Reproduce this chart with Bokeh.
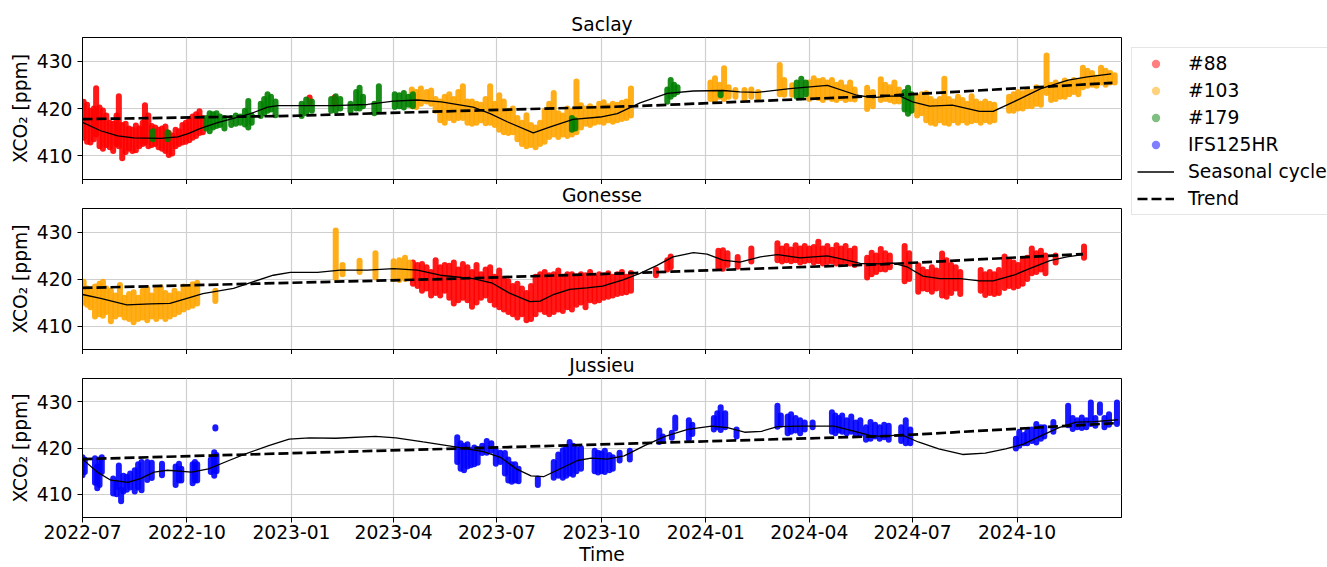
import pandas as pd
from bokeh.embed import file_html
from bokeh.layouts import column, row
from bokeh.models import (ColumnDataSource, DatetimeTickFormatter, FixedTicker,
                          Legend, LegendItem, Range1d)
from bokeh.plotting import figure
from bokeh.resources import INLINE

FONT = "DejaVu Sans"
FS = "18.7px"

X_START = "2022-07-01"
X_END = "2025-01-01"
X_TICKS = ["2022-07-01", "2022-10-01", "2023-01-01", "2023-04-01", "2023-07-01",
           "2023-10-01", "2024-01-01", "2024-04-01", "2024-07-01", "2024-10-01"]
Y_TICKS = [410, 420, 430]
Y_MIN, Y_MAX = 405, 435

# ---------------------------------------------------------------- Saclay
SAC_88_DATES = ["2022-07-02", "2022-07-05", "2022-07-08", "2022-07-11", "2022-07-13",
                "2022-07-16", "2022-07-19", "2022-07-22", "2022-07-25", "2022-07-28",
                "2022-07-31", "2022-08-02", "2022-08-05", "2022-08-08", "2022-08-11",
                "2022-08-14", "2022-08-17", "2022-08-20", "2022-08-23", "2022-08-25",
                "2022-08-28", "2022-08-31", "2022-09-03", "2022-09-06", "2022-09-09",
                "2022-09-12", "2022-09-15", "2022-09-18", "2022-09-21", "2022-09-24",
                "2022-09-27", "2022-09-30", "2022-10-03", "2022-10-06", "2022-10-09",
                "2022-10-12", "2022-10-15", "2023-01-17", "2023-02-08"]
SAC_88_LOW = [413.8, 413.0, 412.8, 413.5, 414.5, 412.0, 411.5, 412.3, 411.8, 411.0,
              412.5, 412.0, 409.5, 410.8, 411.5, 411.0, 411.2, 412.0, 412.5, 412.8,
              412.0, 412.3, 412.5, 411.8, 411.5, 411.0, 410.2, 410.5, 412.0, 412.5,
              412.8, 413.0, 413.3, 413.8, 414.2, 414.8, 415.0, 421.3, 421.0]
SAC_88_HIGH = [421.4, 420.8, 419.5, 420.0, 424.3, 420.2, 419.6, 418.5, 417.0, 416.8,
               418.5, 422.6, 416.5, 416.8, 415.8, 415.5, 416.4, 415.8, 417.0, 420.7,
               418.5, 416.3, 416.0, 415.5, 415.8, 416.2, 414.8, 414.3, 415.5, 415.2,
               416.5, 417.0, 417.5, 418.3, 418.8, 419.4, 418.0, 422.3, 422.3]

SAC_103_DATES = ["2023-04-17", "2023-04-21", "2023-04-25", "2023-04-30", "2023-05-04",
                 "2023-05-08", "2023-05-12", "2023-05-16", "2023-05-20", "2023-05-24",
                 "2023-05-28", "2023-06-01", "2023-06-05", "2023-06-09", "2023-06-13",
                 "2023-06-17", "2023-06-21", "2023-06-25", "2023-06-29", "2023-07-03",
                 "2023-07-07", "2023-07-11", "2023-07-15", "2023-07-19", "2023-07-23",
                 "2023-07-27", "2023-07-31", "2023-08-04", "2023-08-08", "2023-08-12",
                 "2023-08-16", "2023-08-20", "2023-08-24", "2023-08-28", "2023-09-01",
                 "2023-09-05", "2023-09-09", "2023-09-13", "2023-09-17", "2023-09-21",
                 "2023-09-25", "2023-09-29", "2023-10-03", "2023-10-07", "2023-10-11",
                 "2023-10-15", "2023-10-19", "2023-10-23", "2023-10-27", "2024-01-05",
                 "2024-01-09", "2024-01-13", "2024-01-17", "2024-01-21", "2024-01-27",
                 "2024-02-04", "2024-02-10", "2024-02-16", "2024-03-06", "2024-03-10",
                 "2024-03-17", "2024-04-01", "2024-04-05", "2024-04-09", "2024-04-13",
                 "2024-04-17", "2024-04-21", "2024-04-25", "2024-04-29", "2024-05-03",
                 "2024-05-07", "2024-05-11", "2024-05-22", "2024-05-27", "2024-06-03",
                 "2024-06-07", "2024-06-11", "2024-06-15", "2024-06-19", "2024-07-05",
                 "2024-07-09", "2024-07-13", "2024-07-17", "2024-07-21", "2024-07-25",
                 "2024-07-29", "2024-08-02", "2024-08-06", "2024-08-10", "2024-08-14",
                 "2024-08-18", "2024-08-22", "2024-08-26", "2024-08-30", "2024-09-03",
                 "2024-09-07", "2024-09-11", "2024-09-24", "2024-09-28", "2024-10-02",
                 "2024-10-06", "2024-10-10", "2024-10-14", "2024-10-18", "2024-10-22",
                 "2024-10-27", "2024-10-31", "2024-11-04", "2024-11-08", "2024-11-12",
                 "2024-11-16", "2024-11-20", "2024-11-24", "2024-11-28", "2024-12-02",
                 "2024-12-06", "2024-12-10", "2024-12-14", "2024-12-18", "2024-12-22",
                 "2024-12-26"]
SAC_103_LOW = [420.5, 420.3, 421.0, 421.5, 421.0, 419.5, 417.5, 417.0, 418.0, 417.5,
               418.0, 418.0, 417.0, 416.8, 417.0, 417.5, 416.9, 417.0, 416.5, 415.5,
               415.0, 414.8, 415.0, 413.5, 412.5, 412.0, 412.3, 411.8, 412.5, 413.0,
               414.0, 414.5, 414.0, 414.5, 414.2, 414.5, 415.0, 416.0, 416.8, 416.5,
               417.0, 417.2, 417.0, 417.5, 417.2, 417.5, 417.8, 418.0, 418.5, 422.0,
               421.8, 422.5, 422.0, 422.5, 422.5, 422.0, 422.5, 422.3, 423.0, 422.9,
               422.9, 422.0, 422.5, 422.2, 421.8, 422.3, 422.0, 421.8, 422.2, 421.8,
               422.0, 421.9, 419.9, 420.5, 421.8, 422.0, 421.8, 421.5, 421.5, 418.5,
               419.0, 417.5, 417.0, 416.8, 417.5, 417.0, 416.8, 417.5, 417.0, 417.5,
               417.0, 417.3, 417.5, 417.0, 417.5, 417.2, 417.5, 419.5, 419.5, 420.0,
               420.0, 420.5, 420.5, 421.0, 420.8, 423.3, 421.8, 422.0, 422.5, 422.5,
               423.0, 423.5, 423.0, 424.5, 424.8, 425.0, 424.8, 425.5, 425.0, 425.5,
               425.5]
SAC_103_HIGH = [424.0, 423.5, 424.2, 423.5, 423.8, 422.0, 421.5, 422.5, 423.0, 422.0,
                423.5, 424.7, 421.5, 421.5, 421.0, 420.8, 422.0, 424.7, 421.0, 422.8,
                421.5, 419.5, 420.0, 418.0, 417.0, 418.6, 416.5, 416.0, 417.0, 419.5,
                421.0, 423.3, 419.0, 418.5, 420.0, 419.5, 425.7, 420.7, 420.0, 420.5,
                420.0, 421.0, 421.3, 420.5, 421.0, 420.8, 421.2, 421.5, 424.2, 425.5,
                426.4, 425.0, 428.5, 424.5, 423.9, 423.9, 424.0, 423.5, 429.2, 426.0,
                424.9, 425.5, 426.4, 425.8, 426.0, 425.5, 426.0, 425.0, 425.5, 424.5,
                425.5, 424.0, 424.4, 423.5, 426.2, 425.0, 424.5, 425.5, 424.0, 422.5,
                423.0, 423.2, 422.0, 421.5, 422.0, 426.3, 422.0, 421.5, 422.5, 421.8,
                421.0, 422.6, 421.5, 421.0, 421.5, 421.0, 420.8, 422.5, 423.0, 423.5,
                423.2, 423.9, 423.5, 424.5, 424.0, 431.2, 425.0, 425.5, 425.0, 425.9,
                425.5, 426.0, 425.8, 428.6, 428.0, 427.5, 426.5, 428.6, 428.0, 427.5,
                427.0]

SAC_179_DATES = ["2022-09-01", "2022-09-14", "2022-10-18", "2022-10-21", "2022-10-24",
                 "2022-10-27", "2022-10-30", "2022-11-03", "2022-11-09", "2022-11-13",
                 "2022-11-17", "2022-11-21", "2022-11-24", "2022-11-27", "2022-12-05",
                 "2022-12-08", "2022-12-11", "2022-12-14", "2022-12-18", "2023-01-10",
                 "2023-01-14", "2023-01-19", "2023-02-05", "2023-02-09", "2023-02-13",
                 "2023-02-22", "2023-02-27", "2023-03-02", "2023-03-05", "2023-03-15",
                 "2023-03-19", "2023-04-02", "2023-04-06", "2023-04-10", "2023-04-14",
                 "2023-04-18", "2023-09-05", "2023-09-08", "2023-11-28", "2023-12-01",
                 "2023-12-04", "2023-12-07", "2024-01-14", "2024-03-21", "2024-03-25",
                 "2024-03-29", "2024-06-24", "2024-06-27", "2024-06-30"]
SAC_179_LOW = [413.5, 413.5, 415.8, 415.2, 416.0, 416.3, 416.5, 415.8, 416.5, 416.8,
               417.0, 416.6, 416.0, 417.0, 418.4, 419.0, 419.5, 419.8, 418.6, 418.4,
               419.0, 419.5, 419.5, 419.5, 420.0, 419.4, 420.0, 420.0, 420.5, 419.0,
               419.5, 420.3, 420.5, 420.2, 420.8, 420.5, 415.5, 415.8, 421.4, 422.5,
               423.0, 423.5, 422.8, 422.5, 422.4, 423.0, 419.8, 418.9, 419.5]
SAC_179_HIGH = [415.2, 415.0, 418.0, 419.0, 418.8, 419.0, 418.3, 418.0, 418.0, 418.5,
                418.3, 419.5, 421.6, 418.5, 421.0, 422.0, 423.0, 422.5, 421.5, 421.0,
                421.9, 421.5, 422.0, 422.6, 422.0, 421.0, 423.5, 424.4, 422.5, 421.0,
                424.7, 423.0, 422.8, 423.3, 422.5, 423.0, 418.0, 417.5, 424.0, 426.0,
                425.0, 424.5, 423.3, 425.5, 426.3, 425.5, 423.5, 424.4, 423.0]

SAC_SEAS_DATES = ["2022-07-01", "2022-07-17", "2022-08-01", "2022-08-15", "2022-09-08",
                  "2022-09-23", "2022-10-02", "2022-10-13", "2022-10-28", "2022-11-11",
                  "2022-11-26", "2022-12-11", "2022-12-20", "2023-01-09", "2023-02-07",
                  "2023-03-09", "2023-04-01", "2023-04-22", "2023-05-13", "2023-06-10",
                  "2023-06-25", "2023-07-10", "2023-08-02", "2023-08-17", "2023-09-06",
                  "2023-09-30", "2023-10-15", "2023-11-04", "2023-11-28", "2023-12-21",
                  "2024-01-16", "2024-01-31", "2024-02-15", "2024-03-15", "2024-04-17",
                  "2024-05-13", "2024-05-27", "2024-06-11", "2024-06-20", "2024-07-01",
                  "2024-07-16", "2024-08-05", "2024-08-29", "2024-09-10", "2024-09-28",
                  "2024-10-22", "2024-11-15", "2024-12-02", "2024-12-23"]
SAC_SEAS = [417.05, 415.3, 414.2, 413.8, 413.7, 414.0, 414.7, 415.8, 417.0, 417.9,
            418.9, 420.3, 420.6, 420.6, 420.6, 420.85, 421.55, 421.8, 421.4, 420.3,
            418.9, 417.2, 414.85, 416.1, 417.7, 418.2, 418.9, 421.2, 423.2, 423.7,
            423.8, 423.5, 423.4, 424.2, 424.9, 422.8, 422.3, 422.6, 422.6, 421.4,
            420.5, 420.7, 419.4, 419.4, 421.4, 424.2, 426.0, 426.7, 427.3]

SAC_TREND_DATES = ["2022-07-01", "2023-01-01", "2023-05-16", "2023-11-01", "2024-06-11",
                   "2024-12-24"]
SAC_TREND = [417.75, 418.45, 419.4, 420.5, 422.75, 425.4]

# ---------------------------------------------------------------- Gonesse
GON_103_DATES = ["2022-07-02", "2022-07-05", "2022-07-08", "2022-07-12", "2022-07-16",
                 "2022-07-19", "2022-07-22", "2022-07-26", "2022-07-30", "2022-08-03",
                 "2022-08-07", "2022-08-11", "2022-08-15", "2022-08-19", "2022-08-23",
                 "2022-08-27", "2022-08-31", "2022-09-04", "2022-09-08", "2022-09-12",
                 "2022-09-16", "2022-09-20", "2022-09-24", "2022-09-28", "2022-10-02",
                 "2022-10-06", "2022-10-10", "2022-10-26", "2023-02-09", "2023-02-15",
                 "2023-03-02", "2023-03-16", "2023-04-01", "2023-04-06", "2023-04-11",
                 "2023-04-15"]
GON_103_LOW = [415.0, 414.5, 414.0, 412.0, 412.5, 412.2, 413.0, 411.0, 412.0, 412.5,
               411.8, 411.5, 410.8, 411.5, 411.8, 411.2, 412.0, 411.5, 412.0, 411.5,
               412.0, 412.5, 413.0, 413.5, 414.0, 414.3, 414.8, 415.3, 420.2, 421.0,
               421.5, 420.3, 420.0, 419.8, 420.0, 420.5]
GON_103_HIGH = [419.4, 418.0, 417.5, 418.4, 419.0, 419.4, 418.0, 417.5, 416.5, 418.7,
                416.0, 416.8, 417.2, 416.0, 417.5, 418.0, 416.5, 417.8, 418.2, 417.0,
                416.5, 417.5, 416.8, 418.4, 418.0, 418.9, 419.2, 417.5, 430.3, 423.0,
                423.9, 425.5, 423.8, 424.0, 424.5, 423.5]

GON_88_DATES = ["2023-04-18", "2023-04-22", "2023-04-26", "2023-04-30", "2023-05-04",
                "2023-05-08", "2023-05-12", "2023-05-16", "2023-05-20", "2023-05-24",
                "2023-05-28", "2023-06-01", "2023-06-05", "2023-06-09", "2023-06-13",
                "2023-06-17", "2023-06-21", "2023-06-25", "2023-06-29", "2023-07-03",
                "2023-07-07", "2023-07-11", "2023-07-15", "2023-07-19", "2023-07-23",
                "2023-07-27", "2023-07-31", "2023-08-04", "2023-08-08", "2023-08-12",
                "2023-08-16", "2023-08-20", "2023-08-24", "2023-08-28", "2023-09-01",
                "2023-09-05", "2023-09-09", "2023-09-13", "2023-09-17", "2023-09-21",
                "2023-09-25", "2023-09-29", "2023-10-03", "2023-10-07", "2023-10-11",
                "2023-10-15", "2023-10-19", "2023-10-23", "2023-10-27", "2023-11-18",
                "2023-11-28", "2023-12-01", "2024-01-12", "2024-01-16", "2024-01-20",
                "2024-01-29", "2024-02-10", "2024-03-04", "2024-03-08", "2024-03-12",
                "2024-03-16", "2024-03-20", "2024-03-24", "2024-03-28", "2024-04-01",
                "2024-04-05", "2024-04-09", "2024-04-13", "2024-04-17", "2024-04-21",
                "2024-04-25", "2024-04-29", "2024-05-03", "2024-05-07", "2024-05-11",
                "2024-05-22", "2024-05-26", "2024-05-30", "2024-06-03", "2024-06-07",
                "2024-06-11", "2024-06-24", "2024-06-28", "2024-07-06", "2024-07-10",
                "2024-07-14", "2024-07-18", "2024-07-22", "2024-07-27", "2024-07-31",
                "2024-08-04", "2024-08-08", "2024-08-12", "2024-08-30", "2024-09-03",
                "2024-09-07", "2024-09-11", "2024-09-15", "2024-09-20", "2024-09-24",
                "2024-09-28", "2024-10-02", "2024-10-06", "2024-10-10", "2024-10-14",
                "2024-10-18", "2024-10-22", "2024-10-26", "2024-11-04", "2024-11-29"]
GON_88_LOW = [419.0, 418.5, 417.5, 418.0, 416.5, 417.0, 416.5, 417.5, 416.0, 414.8,
              415.5, 416.0, 415.5, 414.1, 415.0, 416.0, 416.5, 415.5, 414.5, 414.0,
              413.5, 413.0, 412.5, 411.8, 412.5, 411.2, 411.5, 412.5, 413.5, 413.0,
              412.5, 413.0, 413.5, 413.2, 414.0, 413.5, 414.5, 415.0, 414.0, 415.5,
              415.2, 415.5, 416.0, 416.2, 416.5, 416.8, 417.0, 417.2, 417.5, 420.8,
              422.0, 422.5, 422.5, 422.2, 423.0, 422.6, 423.7, 424.0, 423.7, 424.0,
              423.8, 424.0, 423.5, 423.8, 424.0, 423.5, 423.8, 423.3, 423.6, 423.8,
              423.3, 423.5, 423.8, 423.3, 423.0, 420.3, 421.0, 421.5, 422.1, 422.0,
              422.5, 419.5, 420.0, 417.3, 418.0, 417.8, 417.3, 418.0, 416.5, 416.2,
              417.0, 418.0, 416.8, 417.5, 416.6, 417.0, 416.8, 417.0, 418.1, 418.5,
              418.2, 418.5, 419.0, 420.0, 421.2, 421.5, 422.0, 421.2, 423.5, 424.5]
GON_88_HIGH = [423.5, 423.0, 423.2, 422.5, 421.5, 424.0, 422.5, 423.0, 422.8, 423.5,
               422.0, 423.2, 422.5, 421.5, 423.0, 421.0, 422.0, 422.5, 420.5, 421.8,
               420.0, 419.5, 418.5, 419.0, 418.0, 417.0, 418.5, 420.5, 421.0, 421.5,
               420.8, 421.0, 421.8, 420.5, 421.0, 421.0, 420.5, 421.0, 420.8, 421.5,
               420.5, 421.0, 420.8, 421.2, 420.5, 421.0, 421.5, 420.5, 421.3, 422.0,
               424.0, 424.8, 426.0, 426.1, 425.5, 424.7, 426.5, 427.6, 426.5, 427.0,
               426.3, 427.2, 426.5, 427.0, 426.5, 426.8, 427.9, 426.5, 427.0, 426.2,
               427.2, 426.5, 427.0, 426.0, 426.5, 424.5, 425.6, 425.0, 426.4, 425.5,
               425.0, 427.0, 425.5, 422.9, 422.0, 421.5, 422.5, 421.8, 425.4, 424.0,
               423.0, 422.5, 421.5, 421.9, 421.0, 421.5, 421.0, 421.9, 424.8, 424.0,
               423.5, 423.0, 424.0, 424.5, 426.5, 425.5, 426.0, 425.0, 425.0, 426.9]

GON_SEAS_DATES = ["2022-07-01", "2022-07-17", "2022-08-09", "2022-08-30", "2022-09-16",
                  "2022-10-01", "2022-10-15", "2022-11-11", "2022-11-28", "2022-12-16",
                  "2022-12-31", "2023-01-24", "2023-02-13", "2023-03-09", "2023-04-01",
                  "2023-04-22", "2023-05-12", "2023-06-10", "2023-06-27", "2023-07-12",
                  "2023-07-30", "2023-08-08", "2023-08-19", "2023-09-03", "2023-09-18",
                  "2023-10-02", "2023-10-20", "2023-11-04", "2023-11-19", "2023-12-03",
                  "2023-12-21", "2024-01-02", "2024-01-16", "2024-01-31", "2024-02-18",
                  "2024-03-04", "2024-03-24", "2024-04-17", "2024-05-04", "2024-05-16",
                  "2024-06-02", "2024-06-14", "2024-06-26", "2024-07-10", "2024-07-25",
                  "2024-08-12", "2024-08-29", "2024-09-10", "2024-09-28", "2024-10-12",
                  "2024-10-30", "2024-11-14", "2024-11-28"]
GON_SEAS = [416.7, 415.9, 414.5, 414.7, 414.8, 415.9, 416.9, 418.0, 419.4, 420.8,
            421.4, 421.4, 421.9, 421.9, 422.2, 421.9, 420.8, 420.1, 419.1, 417.0,
            415.2, 415.3, 416.6, 417.8, 418.1, 418.5, 419.8, 421.2, 422.9, 424.7,
            425.6, 425.3, 424.0, 423.6, 424.7, 425.2, 424.5, 424.9, 424.0, 423.3,
            423.2, 423.4, 422.6, 420.6, 420.1, 420.1, 419.6, 419.6, 420.8, 422.2,
            423.9, 424.7, 425.2]

GON_TREND_DATES = ["2022-07-01", "2023-05-16", "2023-11-01", "2024-06-11", "2024-11-28"]
GON_TREND = [418.1, 420.0, 421.3, 423.2, 425.3]

# ---------------------------------------------------------------- Jussieu
JUS_IFS_DATES = ["2022-07-01", "2022-07-03", "2022-07-12", "2022-07-14", "2022-07-16",
                 "2022-07-18", "2022-07-28", "2022-07-31", "2022-08-02", "2022-08-04",
                 "2022-08-06", "2022-08-09", "2022-08-12", "2022-08-16", "2022-08-19",
                 "2022-08-22", "2022-08-27", "2022-08-31", "2022-09-09", "2022-09-21",
                 "2022-09-24", "2022-09-26", "2022-10-06", "2022-10-08", "2022-10-10",
                 "2022-10-22", "2022-10-25", "2022-10-26", "2022-10-27", "2023-05-27",
                 "2023-05-30", "2023-06-02", "2023-06-05", "2023-06-08", "2023-06-11",
                 "2023-06-14", "2023-06-18", "2023-06-22", "2023-06-26", "2023-06-30",
                 "2023-07-04", "2023-07-08", "2023-07-11", "2023-07-14", "2023-07-17",
                 "2023-07-20", "2023-08-06", "2023-08-20", "2023-08-24", "2023-08-28",
                 "2023-08-31", "2023-09-03", "2023-09-06", "2023-09-09", "2023-09-13",
                 "2023-09-25", "2023-09-28", "2023-10-01", "2023-10-04", "2023-10-08",
                 "2023-10-11", "2023-10-17", "2023-10-26", "2023-11-21", "2023-11-24",
                 "2023-12-02", "2023-12-05", "2023-12-17", "2023-12-20", "2024-01-08",
                 "2024-01-11", "2024-01-14", "2024-01-18", "2024-01-28", "2024-03-04",
                 "2024-03-07", "2024-03-13", "2024-03-16", "2024-03-20", "2024-03-24",
                 "2024-03-28", "2024-04-04", "2024-04-21", "2024-04-24", "2024-04-27",
                 "2024-04-30", "2024-05-04", "2024-05-08", "2024-05-12", "2024-05-16",
                 "2024-05-21", "2024-05-25", "2024-05-29", "2024-06-02", "2024-06-06",
                 "2024-06-10", "2024-06-21", "2024-06-25", "2024-06-29", "2024-09-30",
                 "2024-10-03", "2024-10-07", "2024-10-10", "2024-10-14", "2024-10-18",
                 "2024-10-22", "2024-10-25", "2024-11-02", "2024-11-15", "2024-11-19",
                 "2024-11-23", "2024-11-27", "2024-12-01", "2024-12-05", "2024-12-09",
                 "2024-12-13", "2024-12-17", "2024-12-21", "2024-12-28"]
JUS_IFS_LOW = [414.1, 414.8, 412.5, 411.3, 412.0, 414.8, 410.2, 410.0, 411.5, 408.5,
               410.6, 411.0, 411.5, 410.6, 411.5, 410.9, 413.1, 413.5, 414.1, 412.0,
               413.0, 413.0, 412.4, 413.0, 413.0, 414.8, 414.0, 424.2, 415.0, 417.0,
               415.5, 415.2, 416.0, 416.3, 416.5, 416.8, 418.9, 419.0, 419.4, 416.6,
               417.0, 414.5, 413.0, 412.7, 413.0, 412.8, 412.0, 413.6, 414.0, 413.6,
               414.0, 414.5, 414.2, 415.0, 415.5, 415.0, 414.7, 415.0, 414.8, 415.2,
               415.5, 417.3, 417.5, 421.3, 421.5, 422.2, 424.2, 422.0, 423.0, 424.0,
               424.5, 423.9, 424.5, 422.5, 424.6, 425.0, 423.2, 423.5, 423.8, 423.2,
               424.0, 424.5, 423.5, 423.2, 423.8, 423.5, 423.2, 423.5, 422.8, 423.0,
               421.8, 422.0, 422.5, 422.0, 422.3, 421.8, 421.5, 421.0, 421.0, 419.9,
               420.5, 421.0, 421.0, 421.5, 421.2, 422.0, 422.5, 423.5, 424.9, 424.1,
               424.5, 424.3, 424.5, 425.2, 424.8, 427.6, 424.5, 425.0, 425.2]
JUS_IFS_HIGH = [418.0, 417.5, 417.8, 416.0, 417.5, 418.0, 413.4, 412.5, 416.2, 411.0,
                414.0, 413.8, 414.5, 415.2, 416.5, 417.0, 417.0, 416.8, 416.6, 416.0,
                416.6, 415.5, 416.5, 417.0, 416.5, 417.5, 419.1, 424.5, 418.5, 422.3,
                421.0, 420.5, 420.8, 419.5, 420.1, 419.8, 420.5, 421.5, 421.0, 419.4,
                419.0, 418.9, 417.5, 416.5, 416.5, 415.5, 413.4, 417.0, 418.6, 419.5,
                420.0, 421.3, 420.5, 419.8, 420.0, 419.4, 419.0, 418.8, 419.4, 418.5,
                418.0, 419.0, 419.4, 423.8, 422.5, 423.3, 426.6, 426.0, 425.0, 426.5,
                427.5, 428.8, 427.5, 424.0, 429.1, 427.0, 426.8, 427.3, 426.5, 426.0,
                425.5, 425.5, 427.7, 427.0, 426.5, 427.0, 426.0, 426.8, 425.5, 426.0,
                424.5, 425.6, 425.0, 424.5, 425.0, 424.8, 424.5, 426.0, 424.0, 422.0,
                423.5, 422.8, 423.5, 424.0, 425.2, 424.5, 424.5, 425.6, 429.1, 426.5,
                426.0, 426.6, 426.0, 429.8, 426.5, 429.4, 426.5, 427.3, 429.8]

JUS_SEAS_DATES = ["2022-07-01", "2022-07-14", "2022-07-26", "2022-08-10", "2022-08-21",
                  "2022-09-02", "2022-09-14", "2022-10-05", "2022-10-20", "2022-11-07",
                  "2022-11-21", "2022-12-12", "2022-12-30", "2023-01-17", "2023-02-09",
                  "2023-03-16", "2023-04-03", "2023-04-27", "2023-05-24", "2023-06-02",
                  "2023-06-19", "2023-07-04", "2023-07-18", "2023-07-31", "2023-08-11",
                  "2023-08-23", "2023-09-10", "2023-09-22", "2023-10-06", "2023-10-21",
                  "2023-11-08", "2023-11-26", "2023-12-16", "2024-01-06", "2024-01-20",
                  "2024-02-04", "2024-02-19", "2024-03-04", "2024-03-25", "2024-04-23",
                  "2024-05-11", "2024-05-26", "2024-06-06", "2024-06-21", "2024-07-06",
                  "2024-07-24", "2024-08-14", "2024-09-03", "2024-09-21", "2024-10-06",
                  "2024-10-20", "2024-11-07", "2024-11-22", "2024-12-08", "2024-12-29"]
JUS_SEAS = [417.6, 414.8, 413.05, 412.6, 413.4, 414.8, 415.2, 414.8, 415.5, 417.3,
            418.7, 420.5, 421.9, 422.2, 422.1, 422.5, 422.2, 421.3, 420.3, 419.9,
            419.2, 418.0, 415.5, 414.0, 413.8, 415.2, 417.3, 417.8, 417.6, 418.3,
            420.5, 422.5, 424.0, 424.7, 424.4, 423.4, 423.6, 424.6, 424.7, 424.7,
            423.6, 422.6, 422.5, 422.9, 421.3, 419.8, 418.6, 418.9, 419.8, 420.8,
            422.4, 424.4, 425.6, 425.7, 426.1]

JUS_TREND_DATES = ["2022-07-01", "2023-05-16", "2023-11-01", "2024-06-11", "2024-12-29"]
JUS_TREND = [417.6, 419.8, 421.0, 422.6, 425.4]

COLORS = {"#88": "red", "#103": "orange", "#179": "green", "IFS125HR": "blue"}

FRAME_W = 1039      # plotting area width in px
FRAME_H = 142       # plotting area height in px


def to_ms(day):
    return (pd.Timestamp(day) - pd.Timestamp("1970-01-01")) / pd.Timedelta(milliseconds=1)


def range_source(dates, low, high):
    return ColumnDataSource(dict(x=[to_ms(d) for d in dates], lo=low, hi=high))


def curve_source(dates, vals):
    return ColumnDataSource(dict(x=[to_ms(d) for d in dates], y=vals))


x_range = Range1d(to_ms(X_START), to_ms(X_END))
tick_ms = [to_ms(d) for d in X_TICKS]
date_fmt = DatetimeTickFormatter(
    microseconds="%Y-%m", milliseconds="%Y-%m", seconds="%Y-%m", minsec="%Y-%m",
    minutes="%Y-%m", hourmin="%Y-%m", hours="%Y-%m", days="%Y-%m",
    months="%Y-%m", years="%Y-%m")


def panel(name, top, bottom, series, seas_src, trend_src, last):
    p = figure(width=82 + FRAME_W + 4, height=top + FRAME_H + bottom,
               x_range=x_range, y_range=Range1d(Y_MIN, Y_MAX),
               x_axis_type="datetime", output_backend="svg", toolbar_location=None,
               min_border_left=82, min_border_right=4, min_border_top=top,
               min_border_bottom=bottom, title=name)
    p.title.align = "center"
    p.title.vertical_align = "top"
    p.title.standoff = 1
    p.title.text_font = FONT
    p.title.text_font_size = FS
    p.title.text_font_style = "normal"
    p.title.text_color = "black"
    p.outline_line_color = "black"
    p.outline_line_width = 1
    p.background_fill_color = "white"
    p.border_fill_color = "white"

    p.xaxis.ticker = FixedTicker(ticks=tick_ms)
    p.xaxis.formatter = date_fmt
    p.yaxis.ticker = FixedTicker(ticks=Y_TICKS)
    for ax in (p.xaxis, p.yaxis):
        ax.axis_line_color = "black"
        ax.major_tick_line_color = "black"
        ax.major_tick_in = 0
        ax.major_tick_out = 5
        ax.minor_tick_line_color = None
        ax.major_label_text_font = FONT
        ax.major_label_text_font_size = FS
        ax.major_label_text_color = "black"
        ax.axis_label_text_font = FONT
        ax.axis_label_text_font_size = FS
        ax.axis_label_text_font_style = "normal"
        ax.axis_label_text_color = "black"
    p.yaxis.axis_label = "XCO\u2082 [ppm]"
    p.yaxis.axis_label_standoff = 3
    if last:
        p.xaxis.axis_label = "Time"
        p.xaxis.major_label_standoff = 2
        p.xaxis.axis_label_standoff = 2
    else:
        # shared time axis: tick marks only, dates are shown on the bottom panel
        p.xaxis.major_label_text_color = None
        p.xaxis.major_label_text_font_size = "0px"
        p.xaxis.major_label_standoff = 0
    p.grid.grid_line_color = "#cfcfcf"
    p.grid.grid_line_width = 1.2

    for src, color in series:
        p.segment(x0="x", y0="lo", x1="x", y1="hi", source=src, line_color=color,
                  line_width=6, line_cap="round", line_alpha=0.9)
    p.line(x="x", y="y", source=seas_src, line_color="black", line_width=1.3)
    p.line(x="x", y="y", source=trend_src, line_color="black", line_width=2.7,
           line_dash="10 4")
    return p


s_sac_88 = range_source(SAC_88_DATES, SAC_88_LOW, SAC_88_HIGH)
s_sac_103 = range_source(SAC_103_DATES, SAC_103_LOW, SAC_103_HIGH)
s_sac_179 = range_source(SAC_179_DATES, SAC_179_LOW, SAC_179_HIGH)
s_gon_103 = range_source(GON_103_DATES, GON_103_LOW, GON_103_HIGH)
s_gon_88 = range_source(GON_88_DATES, GON_88_LOW, GON_88_HIGH)
s_jus_ifs = range_source(JUS_IFS_DATES, JUS_IFS_LOW, JUS_IFS_HIGH)

sac_seas = curve_source(SAC_SEAS_DATES, SAC_SEAS)
sac_trend = curve_source(SAC_TREND_DATES, SAC_TREND)
gon_seas = curve_source(GON_SEAS_DATES, GON_SEAS)
gon_trend = curve_source(GON_TREND_DATES, GON_TREND)
jus_seas = curve_source(JUS_SEAS_DATES, JUS_SEAS)
jus_trend = curve_source(JUS_TREND_DATES, JUS_TREND)

p1 = panel("Saclay", 37, 5,
           [(s_sac_88, COLORS["#88"]), (s_sac_103, COLORS["#103"]),
            (s_sac_179, COLORS["#179"])], sac_seas, sac_trend, False)
p2 = panel("Gonesse", 23, 5,
           [(s_gon_88, COLORS["#88"]), (s_gon_103, COLORS["#103"])],
           gon_seas, gon_trend, False)
p3 = panel("Jussieu", 24, 47,
           [(s_jus_ifs, COLORS["IFS125HR"])], jus_seas, jus_trend, True)

# legend column on the right, sharing the instrument sources
lf = figure(width=202, height=567, x_range=Range1d(0, 1), y_range=Range1d(0, 1),
            output_backend="svg", toolbar_location=None, min_border=0,
            x_axis_location=None, y_axis_location=None)
lf.grid.visible = False
lf.outline_line_color = None
lf.background_fill_color = "white"
lf.border_fill_color = "white"

items = []
for label, src in (("#88", s_sac_88), ("#103", s_sac_103), ("#179", s_sac_179),
                   ("IFS125HR", s_jus_ifs)):
    r = lf.scatter(x="x", y="lo", source=src, size=7, fill_color=COLORS[label],
                   line_color=None, fill_alpha=0.5, visible=False)
    items.append(LegendItem(label=label, renderers=[r]))
r_seas = lf.line(x="x", y="y", source=sac_seas, line_color="black", line_width=1.3,
                 visible=False)
items.append(LegendItem(label="Seasonal cycle", renderers=[r_seas]))
r_trend = lf.line(x="x", y="y", source=sac_trend, line_color="black", line_width=2.7,
                  line_dash="10 4", visible=False)
items.append(LegendItem(label="Trend", renderers=[r_trend]))

legend = Legend(items=items, location=(6, 352), glyph_width=37, glyph_height=21,
                label_height=21, label_standoff=14, spacing=6, padding=5, margin=0,
                label_text_font=FONT, label_text_font_size=FS, label_text_color="black",
                border_line_color="#cccccc", border_line_width=1,
                background_fill_color="white", background_fill_alpha=0.8)
lf.add_layout(legend)

layout = row(column(p1, p2, p3), lf)

open("out.html", "w").write(file_html(layout, INLINE))
